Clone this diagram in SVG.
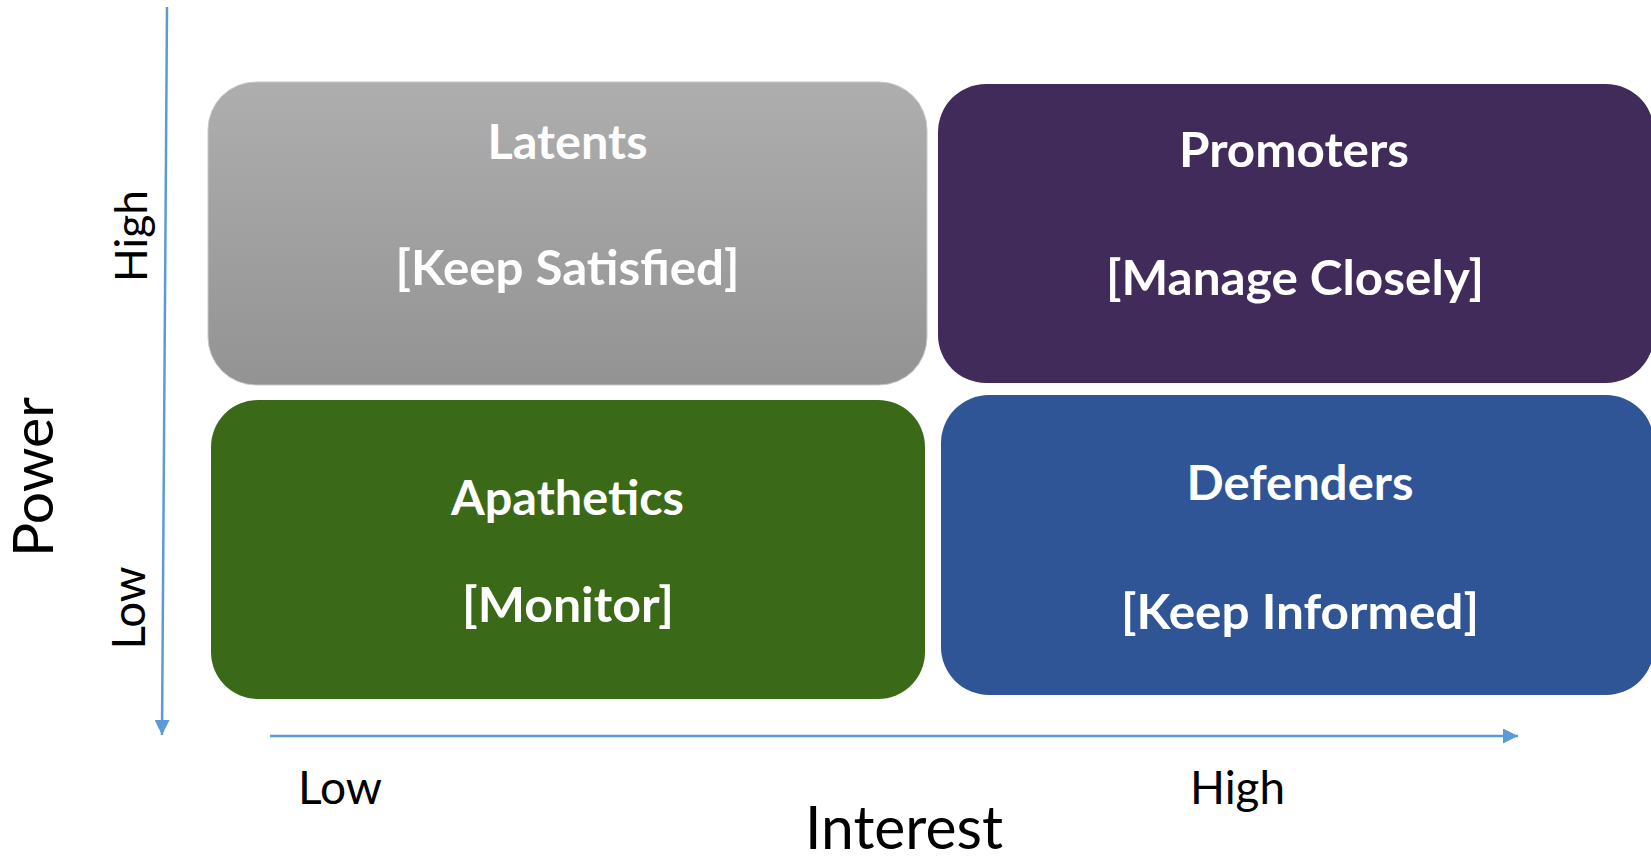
<svg xmlns="http://www.w3.org/2000/svg" width="1651" height="861" viewBox="0 0 1651 861">
  <style>
    .title { font-family: Lato, "Liberation Sans", sans-serif; font-weight: 700; font-size: 47px; fill: #ffffff; text-anchor: middle; }
    .axis-label { font-family: Lato, "Liberation Sans", sans-serif; font-weight: 400; fill: #000000; }
    .axis { stroke: #5B9BD5; stroke-width: 2.5; fill: none; }
  </style>
  <defs>
    <linearGradient id="grayFill" x1="0" y1="0" x2="0" y2="1">
      <stop offset="0" stop-color="#AEAEAE"/>
      <stop offset="1" stop-color="#939393"/>
    </linearGradient>
    <marker id="arrowHead" viewBox="0 0 10 10" refX="10" refY="5" markerWidth="6" markerHeight="6" markerUnits="strokeWidth" orient="auto">
      <path d="M0,0 L10,5 L0,10 Z" fill="#5B9BD5"/>
    </marker>
  </defs>

  <rect width="1651" height="861" fill="#ffffff"/>

  <!-- quadrant: high power, low interest -->
  <g id="latents">
    <rect x="208" y="82" width="719" height="303" rx="48" ry="48" fill="url(#grayFill)" stroke="#c8c8c8" stroke-width="1"/>
    <text class="title" x="567.5" y="159" textLength="160" lengthAdjust="spacingAndGlyphs">Latents</text>
    <text class="title" x="567.5" y="285" textLength="344" lengthAdjust="spacingAndGlyphs">[Keep Satisfied]</text>
  </g>

  <!-- quadrant: high power, high interest -->
  <g id="promoters">
    <rect x="938" y="84" width="716" height="299" rx="48" ry="48" fill="#412B5A"/>
    <text class="title" x="1294" y="167" textLength="230" lengthAdjust="spacingAndGlyphs">Promoters</text>
    <text class="title" x="1295" y="295" textLength="378" lengthAdjust="spacingAndGlyphs">[Manage Closely]</text>
  </g>

  <!-- quadrant: low power, low interest -->
  <g id="apathetics">
    <rect x="211" y="400" width="714" height="299" rx="47" ry="47" fill="#3A6A17"/>
    <text class="title" x="567.5" y="515" textLength="233" lengthAdjust="spacingAndGlyphs">Apathetics</text>
    <text class="title" x="568" y="622" textLength="212" lengthAdjust="spacingAndGlyphs">[Monitor]</text>
  </g>

  <!-- quadrant: low power, high interest -->
  <g id="defenders">
    <rect x="941" y="395" width="713" height="300" rx="48" ry="48" fill="#2F5597"/>
    <text class="title" x="1300" y="500" textLength="227" lengthAdjust="spacingAndGlyphs">Defenders</text>
    <text class="title" x="1300" y="629" textLength="358" lengthAdjust="spacingAndGlyphs">[Keep Informed]</text>
  </g>

  <!-- axes -->
  <g id="connectors">
    <line class="axis" x1="167" y1="7" x2="162" y2="735" marker-end="url(#arrowHead)"/>
    <line class="axis" x1="270" y1="736" x2="1518" y2="736" marker-end="url(#arrowHead)"/>
  </g>

  <!-- axis captions -->
  <g id="axis-labels">
    <text class="axis-label" x="298" y="804" font-size="47" textLength="84" lengthAdjust="spacingAndGlyphs">Low</text>
    <text class="axis-label" x="1190" y="804" font-size="47" textLength="95" lengthAdjust="spacingAndGlyphs">High</text>
    <text class="axis-label" x="805" y="849" font-size="60" textLength="198" lengthAdjust="spacingAndGlyphs">Interest</text>
    <text class="axis-label" transform="translate(53,477) rotate(-90)" text-anchor="middle" font-size="56" textLength="160" lengthAdjust="spacingAndGlyphs">Power</text>
    <text class="axis-label" transform="translate(147,236) rotate(-90)" text-anchor="middle" font-size="45" textLength="92" lengthAdjust="spacingAndGlyphs">High</text>
    <text class="axis-label" transform="translate(145,608) rotate(-90)" text-anchor="middle" font-size="47" textLength="83" lengthAdjust="spacingAndGlyphs">Low</text>
  </g>
</svg>
